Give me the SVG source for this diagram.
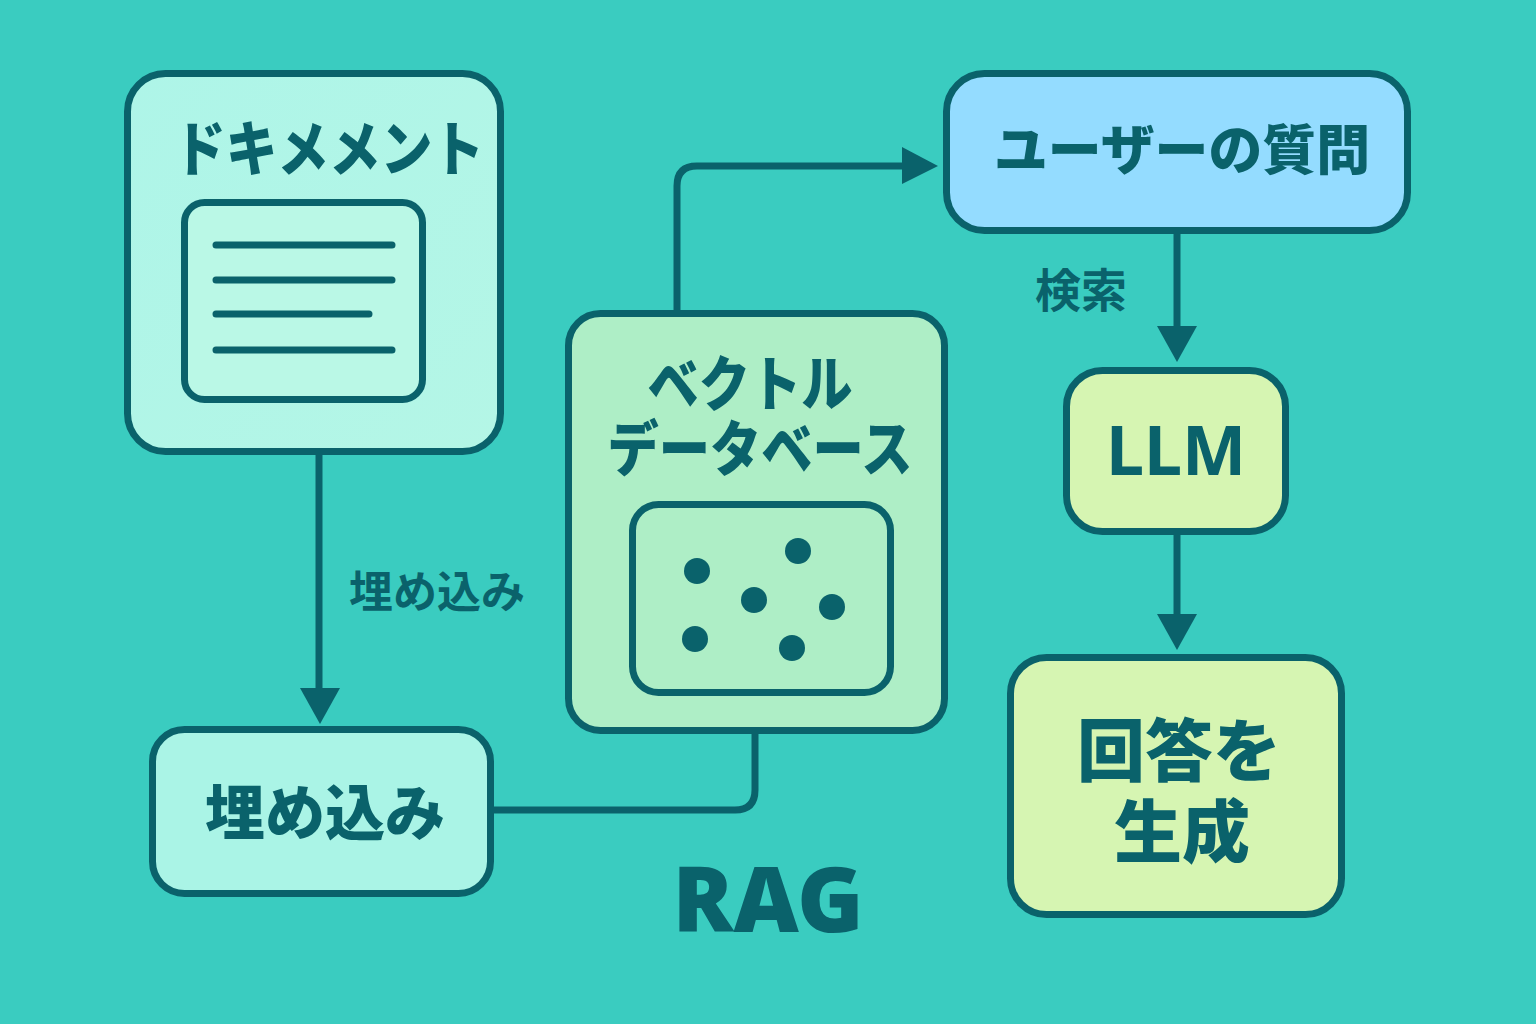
<svg xmlns="http://www.w3.org/2000/svg" width="1536" height="1024" viewBox="0 0 1536 1024">
<style>
.b{stroke:#0a626b;stroke-width:7}
.c{fill:none;stroke:#0a626b;stroke-width:7}
.h{fill:#0a626b}
.l{stroke:#0a626b;stroke-width:7;stroke-linecap:round}
text{fill:#0a626b;font-family:"Noto Sans CJK JP","Noto Sans",sans-serif;font-weight:900;text-anchor:middle}
.t{font-size:60px}
.s{font-size:44px;font-weight:700}
</style>
<defs>
<linearGradient id="g1" x1="0" y1="0" x2="1" y2="1"><stop offset="0" stop-color="#aef5e8"/><stop offset="1" stop-color="#b4f6e6"/></linearGradient>
</defs>
<rect width="1536" height="1024" fill="#3accc0"/>
<g id="connectors">
<path class="c" d="M319 452V695"/><path class="h" d="M300 688H340L320 724Z"/>
<path class="c" d="M492 810H735Q755 810 755 790V730"/>
<path class="c" d="M677 314V186Q677 166 697 166H905"/><path class="h" d="M902 147L938 166L902 184Z"/>
<path class="c" d="M1177 232V330"/><path class="h" d="M1157 326H1197L1177 362Z"/>
<path class="c" d="M1177 532V618"/><path class="h" d="M1157 614H1197L1177 650Z"/>
</g>
<g id="doc"><rect class="b" x="127.500" y="73.500" width="373" height="378" rx="38" fill="url(#g1)"/>
<text class="t" x="329" y="171" textLength="310" lengthAdjust="spacingAndGlyphs">ドキメメント</text>
<rect class="b" x="184.500" y="202.500" width="238" height="197" rx="20" fill="#baf8e6"/>
<path class="l" d="M216 245H392M216 280H392M216 314H369M216 350H392"/></g>
<g id="embed"><rect class="b" x="152.500" y="729.500" width="338" height="164" rx="32" fill="#aaf4e6"/><text class="t" x="325" y="835">埋め込み</text></g>
<g id="db"><rect class="b" x="568.500" y="313.500" width="376" height="417" rx="32" fill="#aeeec6"/>
<text class="t" x="750" y="406" textLength="205" lengthAdjust="spacingAndGlyphs">ベクトル</text><text class="t" x="760" y="471" textLength="305" lengthAdjust="spacingAndGlyphs">データベース</text>
<rect class="b" x="632.500" y="504.500" width="258" height="188" rx="26" fill="#aeeec6"/>
<g class="h"><circle cx="697" cy="571" r="13"/><circle cx="798" cy="551" r="13"/><circle cx="754" cy="600" r="13"/><circle cx="832" cy="607" r="13"/><circle cx="695" cy="639" r="13"/><circle cx="792" cy="648" r="13"/></g></g>
<g id="question"><rect class="b" x="946.500" y="73.500" width="461" height="157" rx="38" fill="#94dcff"/><text x="1182" y="170" font-size="54" textLength="376" lengthAdjust="spacingAndGlyphs">ユーザーの質問</text></g>
<g id="llm"><rect class="b" x="1066.500" y="370.500" width="219" height="161" rx="36" fill="#d6f5b2"/><text x="1176" y="475" font-size="68" style="font-family:'Noto Sans',sans-serif;font-weight:700">LLM</text></g>
<g id="answer"><rect class="b" x="1010.500" y="657.500" width="331" height="257" rx="36" fill="#d6f5b2"/><text x="1179" y="776" font-size="68">回答を</text><text x="1182" y="857" font-size="68">生成</text></g>
<text class="s" x="437" y="608">埋め込み</text>
<text class="s" x="1081" y="307" style="font-size:46px">検索</text>
<text x="768" y="932" font-size="90" style="font-family:'Noto Sans',sans-serif">RAG</text>
</svg>
